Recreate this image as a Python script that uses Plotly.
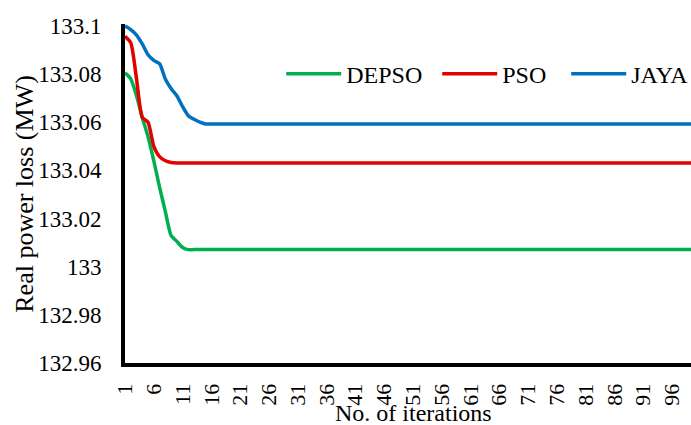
import plotly.graph_objects as go

iterations = list(range(1, 101))

depso = [133.0805, 133.078, 133.071, 133.062, 133.054, 133.044, 133.033, 133.023,
         133.013, 133.0105, 133.008, 133.0071] + [133.0071] * 88
pso = [133.0957, 133.093, 133.078, 133.062, 133.060, 133.050, 133.0457, 133.044,
       133.0433, 133.0431] + [133.0431] * 90
jaya = [133.1, 133.0985, 133.0962, 133.0925, 133.088, 133.0857, 133.0843, 133.078,
        133.074, 133.071, 133.0665, 133.0627, 133.0612, 133.0600, 133.0593] + [133.0593] * 85

series_names = ["DEPSO", "PSO", "JAYA"]
series_colors = ["#00B050", "#E30000", "#0070C0"]

y_tickvals = [132.96, 132.98, 133.0, 133.02, 133.04, 133.06, 133.08, 133.1]
y_ticktext = ["132.96", "132.98", "133", "133.02", "133.04", "133.06", "133.08", "133.1"]
x_tickvals = list(range(1, 100, 5))

x_title = "No. of iterations"
y_title = "Real power loss (MW)"

FONT = "'Liberation Serif', 'Times New Roman', serif"
legend_widths = [86, 59, 60]

fig = go.Figure()
for name, ys, col, lw in zip(series_names, [depso, pso, jaya], series_colors, legend_widths):
    fig.add_trace(go.Scatter(
        x=iterations, y=ys, name=name, mode="lines", legendwidth=lw,
        line=dict(color=col, width=3.5, shape="spline", smoothing=0.6),
    ))

fig.update_layout(
    width=691, height=425,
    margin=dict(l=125, r=0, t=24, b=62, autoexpand=False),
    paper_bgcolor="white", plot_bgcolor="white",
    font=dict(family=FONT, size=23, color="black"),
    showlegend=True,
    legend=dict(
        orientation="h", x=0.276, y=0.852, xanchor="left", yanchor="middle",
        font=dict(family=FONT, size=24, color="black"),
        bgcolor="rgba(0,0,0,0)", itemwidth=55, entrywidthmode="pixels",
    ),
    xaxis=dict(
        range=[1, 99.3], tickmode="array", tickvals=x_tickvals,
        ticktext=[str(v) for v in x_tickvals], tickangle=-90, automargin=False,
        showgrid=False, zeroline=False, showline=True, linecolor="black", linewidth=4,
        ticks="outside", ticklen=8, tickcolor="rgba(0,0,0,0)",
        tickfont=dict(family=FONT, size=22),
    ),
    yaxis=dict(
        range=[132.96, 133.1008], tickmode="array", tickvals=y_tickvals, ticktext=y_ticktext,
        automargin=False,
        showgrid=False, zeroline=False, showline=True, linecolor="black", linewidth=4,
        ticks="outside", ticklen=15, tickcolor="rgba(0,0,0,0)",
        tickfont=dict(family=FONT, size=23),
    ),
    annotations=[
        dict(text=x_title, xref="paper", yref="paper", x=0.51, y=-0.147,
             xanchor="center", yanchor="middle", showarrow=False,
             font=dict(family=FONT, size=24)),
        dict(text=y_title, xref="paper", yref="paper", x=-0.178, y=0.5,
             xanchor="center", yanchor="middle", showarrow=False, textangle=-90,
             font=dict(family=FONT, size=26)),
    ],
)

fig.write_html("out.html", post_script="document.body.style.margin='0';",
               config={"displayModeBar": False})
